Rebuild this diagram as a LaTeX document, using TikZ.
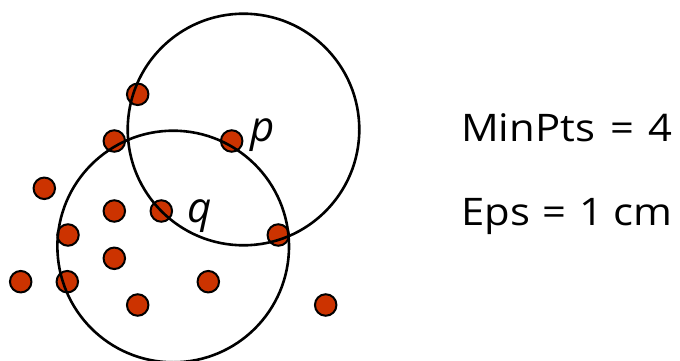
\documentclass[tikz,border=0pt]{standalone}
\usepackage{fontspec}
\setmainfont{Open Sans}
\newfontfamily\widefont[FakeStretch=1.1]{Open Sans}
\definecolor{dotred}{HTML}{CC3300}
\begin{document}
\begin{tikzpicture}[x=1pt,y=-1pt,
  pt/.style={circle,fill=dotred,draw=black,line width=2pt,minimum size=21.5pt,inner sep=0pt},
  ring/.style={draw=black,line width=2.6pt},
  lab/.style={font=\fontsize{42}{42}\selectfont\itshape,inner sep=0pt,anchor=base west},
  txt/.style={font=\widefont\fontsize{38}{38}\selectfont,inner sep=0pt,anchor=base west}]
\useasboundingbox (0,0) rectangle (680,361);
\node[pt] (d1) at (137.7,94.3) {};
\node[pt] (d2) at (114.3,141) {};
\node[pt] (p) at (231.7,141) {};
\node[pt] (d4) at (44.3,188.3) {};
\node[pt] (d5) at (114.3,211) {};
\node[pt] (q) at (161.3,211) {};
\node[pt] (d7) at (68,235) {};
\node[pt] (d8) at (278.3,235) {};
\node[pt] (d9) at (114.3,258.3) {};
\node[pt] (d10) at (20.7,281.7) {};
\node[pt] (d11) at (67.3,281.7) {};
\node[pt] (d12) at (208.3,281.7) {};
\node[pt] (d13) at (137.7,305) {};
\node[pt] (d14) at (325.7,305) {};
\coordinate (cp) at (243.5,129.5);
\coordinate (cq) at (173.2,246.5);
\draw[ring] (cp) circle[radius=115.8];
\draw[ring] (cq) circle[radius=115.8];
\node[lab] (plab) at (250,141) {p};
\node[lab] (qlab) at (187,222) {q};
\node[txt] (t1) at (461,141) {MinPts\hspace{15pt}=\hspace{15pt}4};
\node[txt] (t2) at (461,225) {Eps\hspace{13pt}=\hspace{13pt}1\hspace{10pt}cm};
\end{tikzpicture}
\end{document}
